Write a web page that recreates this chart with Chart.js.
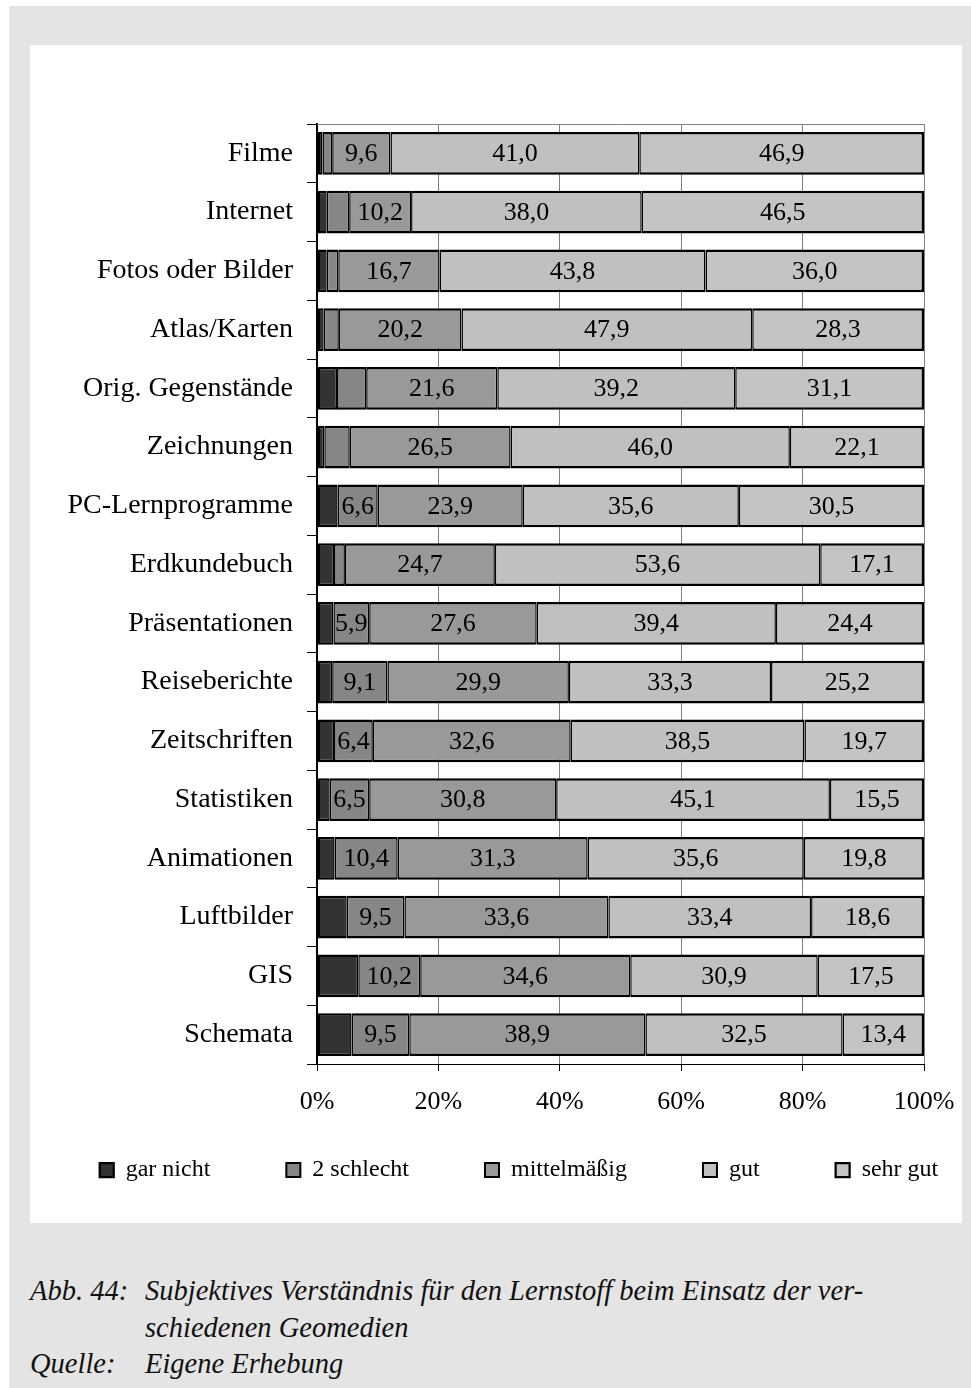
<!DOCTYPE html>
<html>
<head>
<meta charset="utf-8">
<script src="https://cdn.jsdelivr.net/npm/chart.js@4/dist/chart.umd.min.js"></script>
<style>
html,body{margin:0;padding:0;background:#fff;overflow:hidden;width:971px;height:1388px;position:relative;}
#frame{position:absolute;left:9px;top:6px;width:962px;height:1382px;background:#e4e4e4;}
#panel{position:absolute;left:30px;top:45px;width:932px;height:1178px;background:#fff;}
#wrap{position:absolute;left:14px;top:45px;width:1010px;height:1215px;}
#caption{position:absolute;left:30px;top:1273px;font-family:"Liberation Serif","Times New Roman",serif;font-style:italic;font-size:28.5px;line-height:36.5px;color:#111;}
.row{display:flex;}
.lab{width:115px;flex:none;}
</style>
</head>
<body>
<div id="frame"></div>
<div id="panel"></div>
<div id="wrap"><canvas id="c" width="1010" height="1215"></canvas></div>
<div id="caption">
  <div class="row"><div class="lab">Abb. 44:</div><div>Subjektives Verständnis für den Lernstoff beim Einsatz der ver-<br>schiedenen Geomedien</div></div>
  <div class="row"><div class="lab">Quelle:</div><div>Eigene Erhebung</div></div>
</div>
<script>
const categories = ['Filme','Internet','Fotos oder Bilder','Atlas/Karten','Orig. Gegenstände','Zeichnungen','PC-Lernprogramme','Erdkundebuch','Präsentationen','Reiseberichte','Zeitschriften','Statistiken','Animationen','Luftbilder','GIS','Schemata'];
const seriesNames = ['gar nicht','2 schlecht','mittelmäßig','gut','sehr gut'];
const garNicht = [0.9,1.6,1.6,1.1,3.3,1.2,3.4,2.8,2.7,2.5,2.8,2.1,2.9,4.9,6.8,5.7];
const schlecht = [1.6,3.7,1.9,2.5,4.8,4.2,6.6,1.8,5.9,9.1,6.4,6.5,10.4,9.5,10.2,9.5];
const mittel = [9.6,10.2,16.7,20.2,21.6,26.5,23.9,24.7,27.6,29.9,32.6,30.8,31.3,33.6,34.6,38.9];
const gut = [41.0,38.0,43.8,47.9,39.2,46.0,35.6,53.6,39.4,33.3,38.5,45.1,35.6,33.4,30.9,32.5];
const sehrGut = [46.9,46.5,36.0,28.3,31.1,22.1,30.5,17.1,24.4,25.2,19.7,15.5,19.8,18.6,17.5,13.4];
const xTickLabels = ['0%','20%','40%','60%','80%','100%'];
const colors = ['#333333','#868686','#999999','#c0c0c0','#c4c4c4'];

const FONT = '"Liberation Serif","Times New Roman",serif';
Chart.defaults.font.family = FONT;
Chart.defaults.color = '#000';

const seriesData = [garNicht, schlecht, mittel, gut, sehrGut];
const last = seriesData.length - 1;
const datasets = seriesData.map((d, i) => ({
  label: seriesNames[i],
  data: d,
  yAxisID: 'y',
  xAxisID: 'x',
  backgroundColor: colors[i],
  borderColor: '#000',
  borderSkipped: false,
  borderWidth: (ctx) => ({top: 2.5, bottom: 2.5, left: ctx.datasetIndex === 0 ? 2.5 : 1.5, right: ctx.datasetIndex === last ? 2.5 : 1.5}),
  barPercentage: 0.73,
  categoryPercentage: 1
}));

const plotFrame = {
  id: 'plotFrame',
  beforeDatasetsDraw(chart) {
    const {ctx, chartArea: a} = chart;
    ctx.save();
    ctx.strokeStyle = '#808080';
    ctx.lineWidth = 1;
    ctx.beginPath();
    ctx.moveTo(a.left, a.top + 0.5);
    ctx.lineTo(a.right, a.top + 0.5);
    ctx.stroke();
    ctx.restore();
  }
};

// legend sits closer to the axis than its own padding would allow
const legendShift = {
  id: 'legendShift',
  afterLayout(chart) {
    const lg = chart.legend;
    if (lg) { lg.top -= 38; lg.bottom -= 38; }
  }
};

const valueLabels = {
  id: 'valueLabels',
  afterDatasetsDraw(chart) {
    const ctx = chart.ctx;
    ctx.save();
    ctx.font = '26px ' + FONT;
    ctx.fillStyle = '#000';
    ctx.textAlign = 'center';
    ctx.textBaseline = 'middle';
    chart.data.datasets.forEach((ds, di) => {
      if (di === 0) return;
      const meta = chart.getDatasetMeta(di);
      meta.data.forEach((el, i) => {
        const v = ds.data[i];
        const txt = v.toFixed(1).replace('.', ',');
        const w = Math.abs(el.x - el.base);
        if (ctx.measureText(txt).width + 2 > w) return;
        ctx.fillText(txt, (el.x + el.base) / 2, el.y + 1);
      });
    });
    ctx.restore();
  }
};

new Chart(document.getElementById('c'), {
  type: 'bar',
  data: { labels: categories, datasets },
  plugins: [plotFrame, legendShift, valueLabels],
  options: {
    indexAxis: 'y',
    responsive: false,
    animation: false,
    layout: { padding: { top: 79, bottom: 30, left: 0, right: 0 } },
    plugins: {
      tooltip: { enabled: false },
      legend: {
        position: 'bottom',
        align: 'center',
        labels: { boxWidth: 14, boxHeight: 14, padding: 76, color: '#000', font: { family: FONT, size: 24 } }
      }
    },
    scales: {
      x: {
        stacked: true, min: 0, max: 100, position: 'bottom',
        ticks: { stepSize: 20, autoSkip: false, maxRotation: 0, padding: 16, color: '#000',
                 font: { family: FONT, size: 26 }, callback: (v, i) => xTickLabels[i] },
        grid: { color: '#808080', lineWidth: 1, tickLength: 7, tickColor: '#000', tickWidth: 1 },
        border: { color: '#000', width: 1 },
        afterFit: (s) => { s.height = 56; }
      },
      y: {
        stacked: true, position: 'left',
        ticks: { padding: 14, color: '#000', autoSkip: false, font: { family: FONT, size: 28 } },
        grid: { drawOnChartArea: false, tickLength: 10, color: '#000', offset: true },
        border: { color: '#000', width: 2 },
        afterFit: (s) => { s.width = 303; }
      },
      yR: {
        type: 'category', position: 'right', display: true,
        ticks: { display: false }, grid: { display: false }, border: { display: false },
        afterFit: (s) => { s.width = 100; }
      }
    }
  }
});
</script>
</body>
</html>
